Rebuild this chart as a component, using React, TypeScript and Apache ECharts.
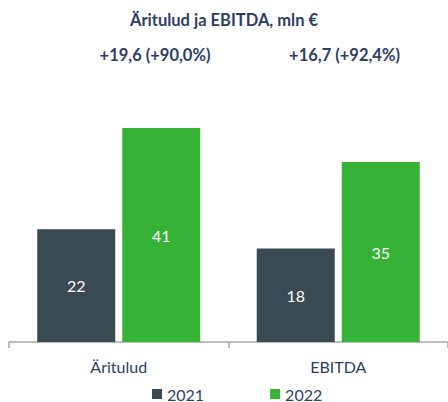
import React, { useEffect, useRef } from "react";
import * as echarts from "echarts";

const categories = ["Äritulud", "EBITDA"];
const seriesNames = ["2021", "2022"];
const values2021 = [21.8, 18.1];
const values2022 = [41.4, 34.8];
const labels2021 = ["22", "18"];
const labels2022 = ["41", "35"];
const changeTexts = ["+19,6 (+90,0%)", "+16,7 (+92,4%)"];
const titleText = "Äritulud ja EBITDA, mln €";

const NAVY = "#2E3D66";
const DARK = "#3A4A52";
const GREEN = "#36B236";
const FONT = "Lato";

export default function App() {
  const ref = useRef<HTMLDivElement>(null);
  useEffect(() => {
    if (!ref.current) return;
    const chart = echarts.init(ref.current, null, { renderer: "svg" });
    chart.setOption({
      animation: false,
      backgroundColor: "#ffffff",
      title: {
        text: titleText,
        left: "center",
        top: 6,
        textStyle: { color: NAVY, fontSize: 16.5, fontWeight: "bold", fontFamily: FONT },
      },
      legend: {
        data: seriesNames,
        left: 152,
        top: 386,
        padding: 0,
        itemWidth: 10,
        itemHeight: 10,
        itemGap: 66,
        icon: "rect",
        textStyle: { color: NAVY, fontSize: 16, fontFamily: FONT, lineHeight: 16 },
      },
      grid: { left: 9, right: -3, top: 109.4, bottom: 60 },
      xAxis: {
        type: "category",
        data: categories,
        axisLine: { lineStyle: { color: "#A6A6A6", width: 1.5 } },
        axisTick: { show: true, length: 6, lineStyle: { color: "#A6A6A6", width: 1.5 } },
        axisLabel: { color: NAVY, fontSize: 16, fontFamily: FONT, margin: 16 },
      },
      yAxis: { type: "value", min: 0, max: 45, show: false, splitLine: { show: false } },
      graphic: changeTexts.map((t, i) => ({
        type: "text",
        x: i === 0 ? 155 : 344.5,
        y: 55,
        style: {
          text: t,
          fill: NAVY,
          font: `bold 16.5px ${FONT}`,
          textAlign: "center",
          textVerticalAlign: "middle",
        },
      })),
      series: [
        {
          name: seriesNames[0],
          type: "bar",
          data: values2021,
          barWidth: 78,
          barGap: "9%",
          itemStyle: { color: DARK },
          label: {
            show: true,
            position: "inside",
            color: "#fff",
            fontSize: 16,
            fontFamily: FONT,
            formatter: (p: any) => labels2021[p.dataIndex],
          },
        },
        {
          name: seriesNames[1],
          type: "bar",
          data: values2022,
          barWidth: 78,
          barGap: "9%",
          itemStyle: { color: GREEN },
          label: {
            show: true,
            position: "inside",
            color: "#fff",
            fontSize: 16,
            fontFamily: FONT,
            formatter: (p: any) => labels2022[p.dataIndex],
          },
        },
      ],
    });
    return () => chart.dispose();
  }, []);
  return (
    <div
      ref={ref}
      style={{ position: "fixed", left: 0, top: 0, width: 448, height: 402 }}
    />
  );
}
